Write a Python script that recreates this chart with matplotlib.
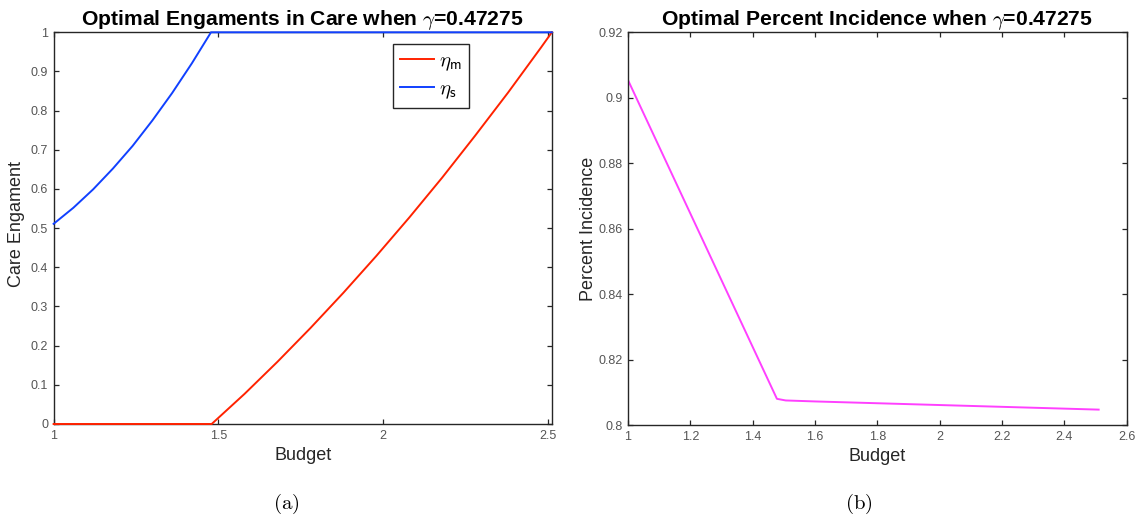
import matplotlib
matplotlib.use("Agg")
import matplotlib.pyplot as plt

# values
budget_s = [1.0, 1.06, 1.12, 1.18, 1.24, 1.30, 1.36, 1.42, 1.478, 2.513]
eta_s = [0.511, 0.552, 0.599, 0.652, 0.710, 0.775, 0.845, 0.921, 1.0, 1.0]

budget_m = [1.0, 1.48, 1.58, 1.68, 1.78, 1.88, 1.98, 2.08, 2.18, 2.28,
            2.38, 2.48, 2.513]
eta_m = [0.0, 0.0, 0.077, 0.159, 0.245, 0.335, 0.429, 0.527, 0.629, 0.736,
         0.846, 0.961, 1.0]

budget_p = [1.0, 1.4778, 1.506, 1.6, 2.0, 2.51]
incidence = [0.9054, 0.8080, 0.8075, 0.8072, 0.8061, 0.8047]

left_xticks = [1, 1.5, 2, 2.5]
left_yticks = [0, 0.1, 0.2, 0.3, 0.4, 0.5, 0.6, 0.7, 0.8, 0.9, 1]
right_xticks = [1, 1.2, 1.4, 1.6, 1.8, 2, 2.2, 2.4, 2.6]
right_yticks = [0.8, 0.82, 0.84, 0.86, 0.88, 0.9, 0.92]

plt.rcParams["font.family"] = ["Liberation Sans", "DejaVu Sans"]
plt.rcParams["mathtext.fontset"] = "cm"

axis_col = "#262626"
tick_col = "#555555"

fig = plt.figure(figsize=(11.38, 5.23), dpi=100)
ax1 = fig.add_axes([53.6 / 1138, 99 / 523, 498.1 / 1138, 391.7 / 523])
ax2 = fig.add_axes([628 / 1138, 98 / 523, 498.7 / 1138, 392.7 / 523])


def fmt(v):
    s = ("%.2f" % v).rstrip("0").rstrip(".")
    return s


def style(ax, xt, yt):
    ax.set_xticks(xt)
    ax.set_yticks(yt)
    ax.set_xticklabels([fmt(v) for v in xt])
    ax.set_yticklabels([fmt(v) for v in yt])
    ax.tick_params(direction="in", top=True, right=True, length=3.5,
                   width=0.9, color=axis_col, labelcolor=tick_col,
                   labelsize=9, pad=4)
    for sp in ax.spines.values():
        sp.set_color(axis_col)
        sp.set_linewidth(1.0)


# (a) care engagement
ax1.plot(budget_m, eta_m, color="#ff2200", lw=1.4, label=r"$\eta_{\mathsf{m}}$",
         clip_on=False, zorder=5)
ax1.plot(budget_s, eta_s, color="#1040ff", lw=1.4, label=r"$\eta_{\mathsf{s}}$",
         clip_on=False, zorder=5)
ax1.set_xlim(1, 2.5126)
ax1.set_ylim(0, 1)
style(ax1, left_xticks, left_yticks)
ax1.set_xlabel("Budget", fontsize=13, color=axis_col)
ax1.set_ylabel("Care Engament", fontsize=13, color=axis_col)
ax1.xaxis.set_label_coords(0.5, -0.058)
ax1.yaxis.set_label_coords(-0.057, 0.51)
ax1.set_title(r"Optimal Engaments in Care when $\gamma$=0.47275",
              fontsize=15.2, fontweight="bold", pad=5)
leg = ax1.legend(loc="upper right", bbox_to_anchor=(0.834, 0.970),
                 borderaxespad=0, fontsize=15, handlelength=1.6,
                 fancybox=False, framealpha=1, edgecolor=axis_col,
                 borderpad=0.35, labelspacing=0.3, handletextpad=0.25)
leg.get_frame().set_linewidth(1.0)
leg.set_zorder(10)

# (b) percent incidence
ax2.plot(budget_p, incidence, color="#ff40ff", lw=1.4)
ax2.set_xlim(1, 2.6)
ax2.set_ylim(0.8, 0.92)
style(ax2, right_xticks, right_yticks)
ax2.set_xlabel("Budget", fontsize=13, color=axis_col)
ax2.set_ylabel("Percent Incidence", fontsize=13, color=axis_col)
ax2.xaxis.set_label_coords(0.5, -0.058)
ax2.yaxis.set_label_coords(-0.062, 0.5)
ax2.set_title(r"Optimal Percent Incidence when $\gamma$=0.47275",
              fontsize=15.2, fontweight="bold", pad=5)

# sub-figure captions
fig.text(286.7 / 1138, 14 / 523, r"$(\mathrm{a})$", fontsize=15,
         ha="center", va="baseline")
fig.text(859 / 1138, 14 / 523, r"$(\mathrm{b})$", fontsize=15,
         ha="center", va="baseline")

fig.savefig("out.png", dpi=100)
